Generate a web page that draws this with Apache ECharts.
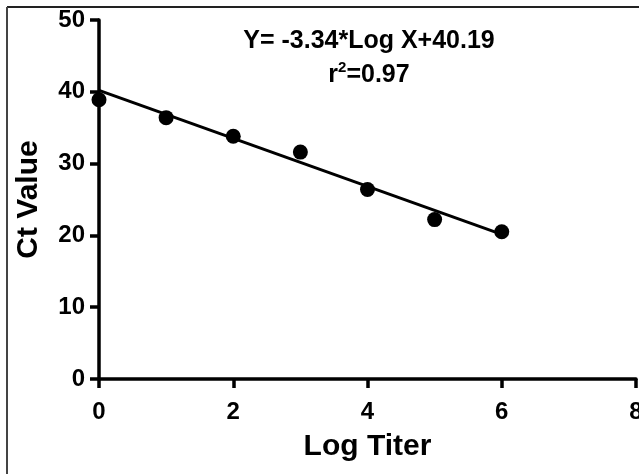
<!DOCTYPE html>
<html>
<head>
<meta charset="utf-8">
<script src="https://cdn.jsdelivr.net/npm/echarts@6/dist/echarts.min.js"></script>
<style>
html,body{margin:0;padding:0;background:#fff;}
#chart{width:639px;height:474px;}
</style>
</head>
<body>
<div id="chart"></div>
<script>
// Data
var logTiter = [0, 1, 2, 3, 4, 5, 6];
var ctValue = [38.9, 36.4, 33.8, 31.6, 26.4, 22.2, 20.5];
var fitX = [0, 6];
var fitY = [40.19, 20.15];
var slope = -3.34;
var intercept = 40.19;
var r2 = 0.97;
var xTicks = [0, 2, 4, 6, 8];
var yTicks = [0, 10, 20, 30, 40, 50];

var chart = echarts.init(document.getElementById('chart'), null, {renderer: 'canvas'});
var FONT = '"Liberation Sans", Arial, sans-serif';

var scatterData = logTiter.map(function (x, i) { return [x, ctValue[i]]; });
var fitData = fitX.map(function (x, i) { return [x, fitY[i]]; });

var option = {
  backgroundColor: '#fff',
  animation: false,
  grid: {left: 99, right: 3, top: 20, bottom: 95, containLabel: false, outerBoundsMode: 'none'},
  xAxis: {
    type: 'value', min: xTicks[0], max: xTicks[xTicks.length - 1], interval: 2,
    name: 'Log Titer', nameLocation: 'middle', nameGap: 53,
    nameTextStyle: {fontFamily: FONT, fontWeight: 'bold', fontSize: 30, color: '#000'},
    axisLine: {show: true, onZero: false, lineStyle: {color: '#000', width: 3.5}},
    axisTick: {show: true, length: 9, lineStyle: {color: '#000', width: 3.5}},
    axisLabel: {margin: 21, fontFamily: FONT, fontWeight: 'bold', fontSize: 24, color: '#000', showMaxLabel: true},
    splitLine: {show: false}
  },
  yAxis: {
    type: 'value', min: yTicks[0], max: yTicks[yTicks.length - 1], interval: 10,
    name: 'Ct Value', nameLocation: 'middle', nameGap: 55, nameRotate: 90,
    nameTextStyle: {fontFamily: FONT, fontWeight: 'bold', fontSize: 30, color: '#000'},
    axisLine: {show: true, onZero: false, lineStyle: {color: '#000', width: 3.5}},
    axisTick: {show: true, length: 9, lineStyle: {color: '#000', width: 3.5}},
    axisLabel: {margin: 14, fontFamily: FONT, fontWeight: 'bold', fontSize: 24, color: '#000'},
    splitLine: {show: false}
  },
  graphic: [
    {type: 'line', shape: {x1: 7, y1: 7, x2: 639, y2: 7}, style: {stroke: '#222', lineWidth: 2}, z: 100},
    {type: 'line', shape: {x1: 7, y1: 7, x2: 7, y2: 474}, style: {stroke: '#444', lineWidth: 2}, z: 100},
    {type: 'text', x: 369, y: 41, z: 100,
      style: {text: 'Y= ' + slope.toFixed(2) + '*Log X+' + intercept.toFixed(2), textAlign: 'center', textVerticalAlign: 'middle',
        font: 'bold 25px ' + FONT, fill: '#000'}},
    {type: 'text', x: 369, y: 74, z: 100,
      style: {text: '{a|r}{s|2}{a|=' + r2.toFixed(2) + '}', textAlign: 'center', textVerticalAlign: 'middle',
        rich: {
          a: {fontFamily: FONT, fontWeight: 'bold', fontSize: 25, fill: '#000', color: '#000', lineHeight: 27, verticalAlign: 'bottom'},
          s: {fontFamily: FONT, fontWeight: 'bold', fontSize: 15, fill: '#000', color: '#000', lineHeight: 27, verticalAlign: 'top', padding: [0, 0, 10, 0]}
        }}}
  ],
  series: [
    {type: 'line', data: fitData, symbol: 'none', lineStyle: {color: '#000', width: 3}, z: 2, clip: false},
    {type: 'scatter', data: scatterData, symbol: 'circle', symbolSize: 15, itemStyle: {color: '#000', opacity: 1}, z: 3, clip: false}
  ]
};
chart.setOption(option);
</script>
</body>
</html>
